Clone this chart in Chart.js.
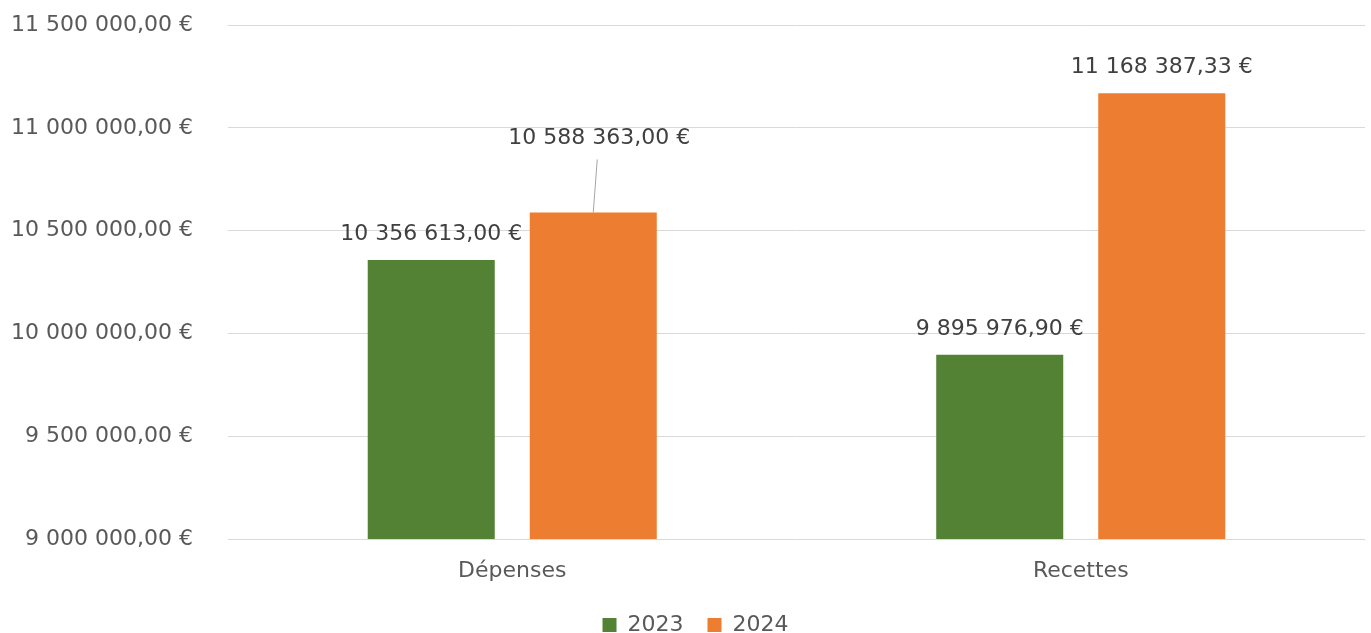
<!DOCTYPE html>
<html lang="fr">
<head>
<meta charset="utf-8">
<title>Dépenses et recettes</title>
<script src="https://cdn.jsdelivr.net/npm/chart.js@4.4.0/dist/chart.umd.min.js"></script>
<style>
  html, body { margin: 0; padding: 0; background: #fff; }
  #wrap { width: 1371px; height: 633px; }
</style>
</head>
<body>
<div id="wrap"><canvas id="barChart"></canvas></div>
<script>
const categories = ["Dépenses", "Recettes"];
const years = ["2023", "2024"];
const values2023 = [10356613.00, 9895976.90];
const values2024 = [10588363.00, 11168387.33];
const yMin = 9000000;
const yMax = 11500000;
const yStep = 500000;

const green = "#548235";
const orange = "#ED7D31";
const fontFamily = "'DejaVu Sans', sans-serif";

// 10 356 613,00 €
function euro(v) {
    let parts = Number(v).toFixed(2).split(".");
    let intPart = parts[0].replace(/\B(?=(\d{3})+(?!\d))/g, " ");
    return intPart + "," + parts[1] + " €";
}

// labels above the bars, one of them moved up with a leader line
const labelOffsets = { "1-0": { dx: 6, dy: -48 } };

const barLabels = {
    id: "barLabels",
    afterLayout(chart) {
        // legend sits a bit right of the canvas centre
        chart.legend.left += 13;
        chart.legend.right += 13;
    },
    afterDatasetsDraw(chart) {
        const ctx = chart.ctx;
        ctx.save();
        ctx.font = "22px " + fontFamily;
        ctx.textAlign = "center";
        ctx.textBaseline = "middle";
        chart.data.datasets.forEach((ds, di) => {
            chart.getDatasetMeta(di).data.forEach((bar, i) => {
                const off = labelOffsets[di + "-" + i] || { dx: 0, dy: 0 };
                const x = bar.x + off.dx;
                const y = bar.y - 26 + off.dy;
                if (off.dy !== 0) {
                    ctx.strokeStyle = "#a6a6a6";
                    ctx.lineWidth = 1;
                    ctx.beginPath();
                    ctx.moveTo(x - 2, y + 21);
                    ctx.lineTo(bar.x, bar.y);
                    ctx.stroke();
                }
                ctx.fillStyle = "#404040";
                ctx.fillText(euro(ds.data[i]), x, y);
            });
        });
        ctx.restore();
    }
};

const data = {
    labels: categories,
    datasets: [
        { label: years[0], data: values2023, backgroundColor: green },
        { label: years[1], data: values2024, backgroundColor: orange }
    ]
};

const config = {
    type: "bar",
    data,
    options: {
        responsive: true,
        maintainAspectRatio: false,
        animation: false,
        categoryPercentage: 0.57,
        barPercentage: 0.784,
        layout: { padding: { left: 0, right: 6, top: 25, bottom: -13 } },
        scales: {
            x: {
                grid: { display: false },
                border: { display: false },
                afterFit(scale) { scale.height = 51; },
                ticks: { color: "#595959", font: { family: fontFamily, size: 22 }, padding: 11 }
            },
            y: {
                min: yMin,
                max: yMax,
                afterFit(scale) { scale.width = 228; },
                grid: { color: "#d9d9d9", drawTicks: true, tickLength: 35, tickColor: "rgba(0,0,0,0)" },
                border: { display: false },
                ticks: {
                    stepSize: yStep,
                    color: "#595959",
                    padding: 0,
                    font: { family: fontFamily, size: 22 },
                    callback: (v) => euro(v)
                }
            }
        },
        plugins: {
            legend: {
                position: "bottom",
                labels: {
                    boxWidth: 14,
                    boxHeight: 14,
                    padding: 24,
                    color: "#595959",
                    font: { family: fontFamily, size: 22 }
                }
            },
            tooltip: { enabled: false }
        }
    },
    plugins: [barLabels]
};

const myChart = new Chart(document.getElementById("barChart"), config);
</script>
</body>
</html>
